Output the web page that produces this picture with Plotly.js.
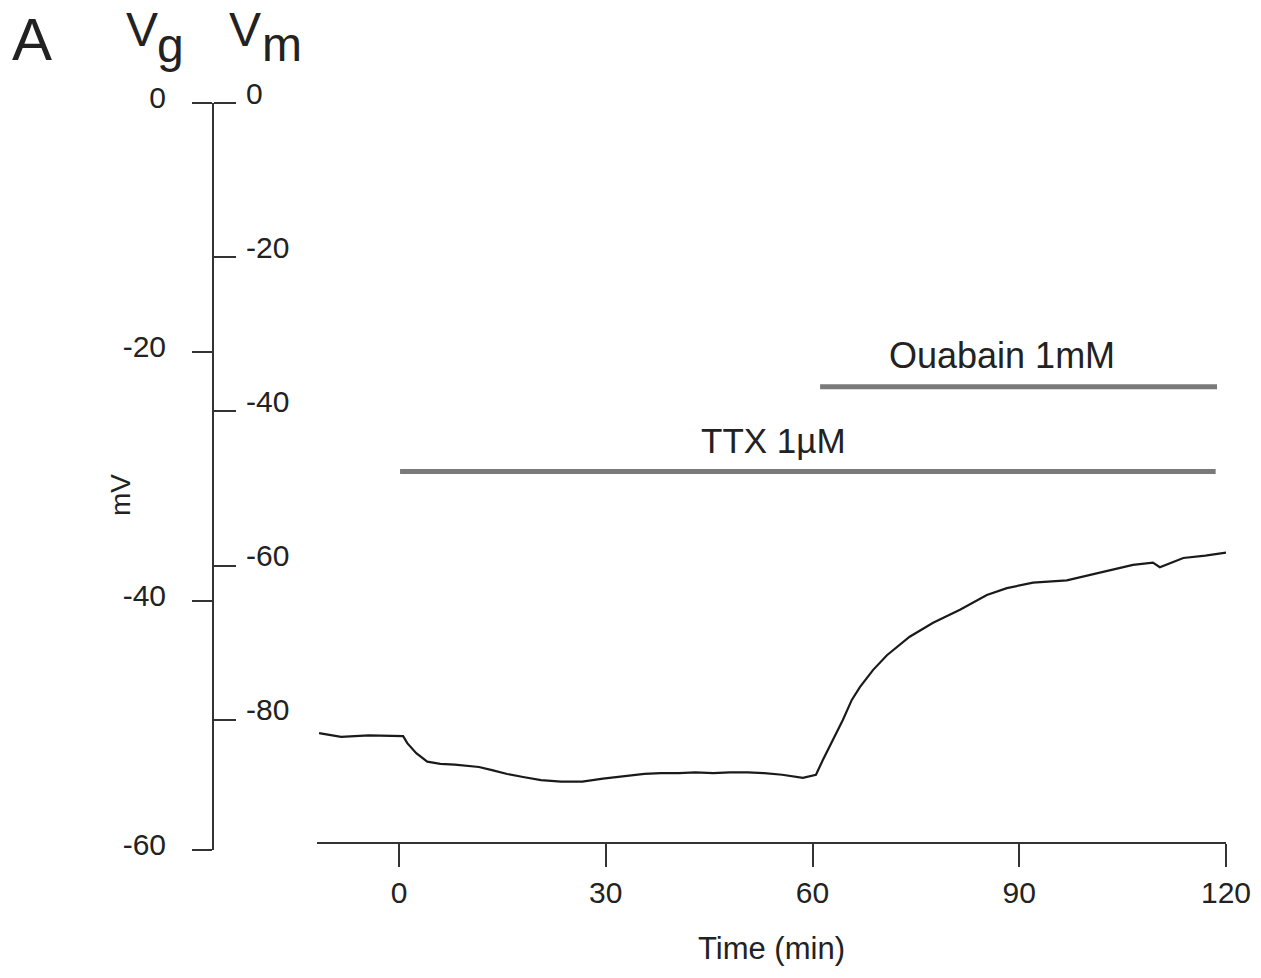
<!DOCTYPE html>
<html>
<head>
<meta charset="utf-8">
<script src="https://cdn.plot.ly/plotly-3.0.1.min.js"></script>
<style>html,body{margin:0;padding:0;background:#fff;}#chart{width:1261px;height:978px;}</style>
</head>
<body>
<div id="chart"></div>
<script>
// Time (min) and membrane potential Vm (mV)
const timeMin = [-11.6, -8.4, -4.4, -1.0, 0.6, 1.2, 2.5, 4.1, 6.0, 8.1, 11.6, 13.5, 15.7, 18.0, 20.6, 23.5, 26.6, 29.6, 32.5, 35.6, 38.0, 40.6, 43.0, 45.6, 48.0, 50.6, 53.0, 55.6, 58.6, 60.5, 61.5, 63.0, 64.4, 65.7, 66.9, 68.8, 70.8, 74.1, 77.5, 81.4, 85.3, 88.2, 92.0, 96.9, 101.7, 106.5, 109.4, 110.4, 113.8, 117.0, 120.0];
const vmMv = [-81.7, -82.2, -82.0, -82.1, -82.1, -83.0, -84.3, -85.4, -85.7, -85.8, -86.1, -86.5, -87.0, -87.4, -87.8, -88.0, -88.0, -87.6, -87.3, -87.0, -86.9, -86.9, -86.8, -86.9, -86.8, -86.8, -86.9, -87.1, -87.5, -87.1, -85.2, -82.6, -80.0, -77.4, -75.7, -73.5, -71.6, -69.2, -67.4, -65.7, -63.8, -62.9, -62.2, -61.9, -60.9, -59.9, -59.6, -60.2, -59.0, -58.7, -58.3];

// Drug application bars: [start, end] in min, level on the Vg scale (mV)
const ttxSpan = [0.15, 118.5];
const ttxLevel = -29.6;
const ouabainSpan = [61.1, 118.7];
const ouabainLevel = -22.8;
const drugLabels = ["TTX 1\u00b5M", "Ouabain 1mM"];

// Axis ticks
const timeTicks = [0, 30, 60, 90, 120];
const vgTicks = [0, -20, -40, -60];
const vmTicks = [0, -20, -40, -60, -80];

const FONT = "Liberation Sans, Arial, Helvetica, sans-serif";
const INK = "#222";

const traces = [
  {x: ttxSpan, y: [ttxLevel, ttxLevel], xaxis: "x", yaxis: "y", mode: "lines",
   line: {color: "#7a7a7a", width: 5}, hoverinfo: "skip", showlegend: false},
  {x: ouabainSpan, y: [ouabainLevel, ouabainLevel], xaxis: "x", yaxis: "y", mode: "lines",
   line: {color: "#7a7a7a", width: 5}, hoverinfo: "skip", showlegend: false},
  {x: timeMin, y: vmMv, xaxis: "x", yaxis: "y2", mode: "lines",
   line: {color: "#1a1a1a", width: 2.2}, hoverinfo: "skip", showlegend: false}
];

const L = 150, R = 35, T = 103, B = 128;
const W = 1261 - L - R, H = 978 - T - B;
const px = X => (X - L) / W;
const py = Y => (978 - B - Y) / H;

function label(text, X, Y, size, extra) {
  return Object.assign({text: text, xref: "paper", yref: "paper", x: px(X), y: py(Y),
    xanchor: "center", yanchor: "middle", showarrow: false,
    font: {family: FONT, size: size, color: INK}}, extra || {});
}

const layout = {
  width: 1261, height: 978,
  margin: {l: L, r: R, t: T, b: B},
  paper_bgcolor: "#fff", plot_bgcolor: "rgba(0,0,0,0)",
  font: {family: FONT, color: INK, size: 30},
  showlegend: false,
  xaxis: {
    domain: [px(317), 1], anchor: "free", position: py(843),
    range: [-11.9, 120], tickvals: timeTicks, ticktext: timeTicks.map(String),
    showline: true, linecolor: "#333", linewidth: 2,
    ticks: "outside", ticklen: 23, tickwidth: 2, tickcolor: "#333",
    showgrid: false, zeroline: false,
    tickfont: {family: FONT, size: 30, color: INK},
    title: {text: "Time (min)", font: {family: FONT, size: 31, color: INK}, standoff: 28}
  },
  yaxis: {
    domain: [0, 1], anchor: "free", position: px(213), side: "left",
    range: [-60, 0], tickvals: vgTicks, ticktext: vgTicks.map(String),
    showline: true, linecolor: "#333", linewidth: 2,
    ticks: "outside", ticklen: 20, tickwidth: 2, tickcolor: "#333",
    ticklabelstandoff: 20, ticklabelshift: -6,
    showgrid: false, zeroline: false,
    tickfont: {family: FONT, size: 30, color: INK}
  },
  yaxis2: {
    domain: [0, 1], anchor: "free", position: px(213), side: "right", overlaying: "y",
    range: [-96.86, 0], tickvals: vmTicks, ticktext: vmTicks.map(String),
    showline: false,
    ticks: "outside", ticklen: 22, tickwidth: 2, tickcolor: "#333",
    ticklabelstandoff: 4, ticklabelshift: -10,
    showgrid: false, zeroline: false,
    tickfont: {family: FONT, size: 30, color: INK}
  },
  annotations: [
    {text: drugLabels[0], xref: "x", yref: "y2", x: 54.4, y: -43.8, showarrow: false,
     xanchor: "center", yanchor: "middle", font: {family: FONT, size: 35, color: INK}},
    {text: drugLabels[1], xref: "x", yref: "y2", x: 87.5, y: -32.7, showarrow: false,
     xanchor: "center", yanchor: "middle", font: {family: FONT, size: 36, color: INK}},
    label("mV", 120, 495, 28, {textangle: -90}),
    label("A", 32, 39, 60),
    label("V", 142, 29, 48),
    label("g", 170, 46, 48),
    label("V", 245, 29, 48),
    label("m", 282, 45, 48)
  ]
};

Plotly.newPlot("chart", traces, layout, {displayModeBar: false, staticPlot: true});
</script>
</body>
</html>
